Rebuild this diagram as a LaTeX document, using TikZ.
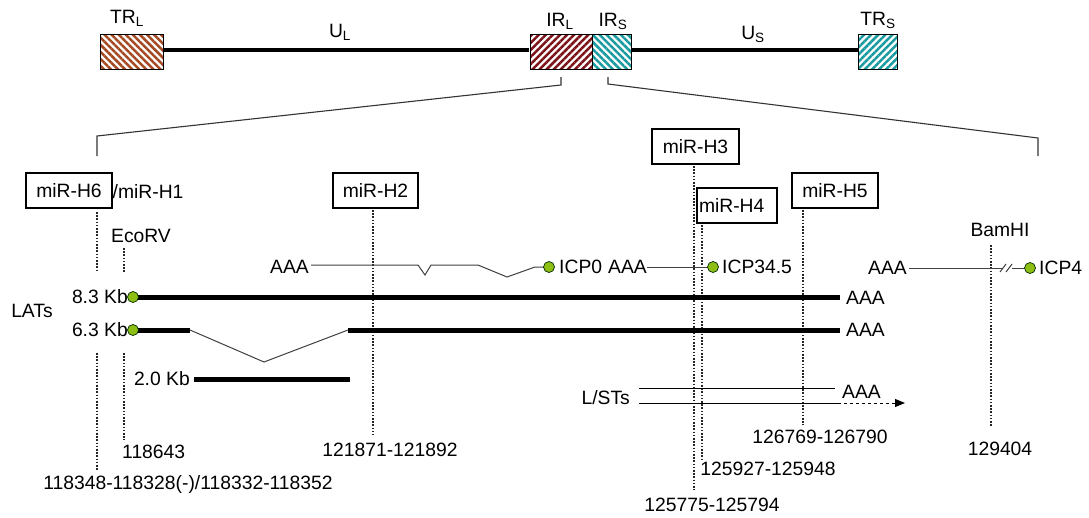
\documentclass[tikz,border=0pt]{standalone}
\usepackage{fontspec}
\setmainfont{Liberation Sans}
\usetikzlibrary{patterns.meta,arrows.meta}
\definecolor{trlcol}{RGB}{165,75,35}
\definecolor{irlcol}{RGB}{125,20,25}
\definecolor{tealcol}{RGB}{25,155,160}
\definecolor{genegreen}{RGB}{140,190,20}
\tikzset{
  lbl/.style={inner sep=0pt, text height=13.8pt, text depth=0pt},
  region/.style={draw=black, line width=0.8pt, inner sep=0pt, minimum height=35pt},
  hatchA/.style={pattern={Lines[angle=-45,distance=5pt,line width=2.5pt]}},
  hatchB/.style={pattern={Lines[angle=45,distance=5pt,line width=2.5pt]}},
  genome/.style={line width=4pt},
  proj/.style={line width=1.1pt, black!80},
  mirbox/.style={draw=black, line width=1.1pt, minimum height=35pt, inner sep=0pt, text height=13.8pt, text depth=0pt},
  dotline/.style={line width=2.2pt, dash pattern=on 1.6pt off 1.6pt, black!85},
  thickline/.style={line width=5pt},
  thinline/.style={line width=1pt, black!75},
  gene/.style={circle, draw=black!60!green!40!black, line width=0.7pt, fill=genegreen, minimum size=11pt, inner sep=0pt}
}
\begin{document}
\begin{tikzpicture}[x=1pt,y=-1pt,font=\fontsize{19.3}{21}\selectfont]
\useasboundingbox[fill=white] (0,0) rectangle (1089,517);

% ---- genome overview ----
\node[region, hatchA, pattern color=trlcol, minimum width=63pt] (trl) at (131.5,51.5) {};
\node[region, hatchB, pattern color=irlcol, minimum width=62pt] (irl) at (561,51.5) {};
\node[region, hatchA, pattern color=tealcol, minimum width=39pt] (irs) at (611.5,51.5) {};
\node[region, hatchB, pattern color=tealcol, minimum width=39pt] (trs) at (877.5,51.5) {};
\draw[genome] ([yshift=2pt]trl.east) -- ([yshift=2pt]irl.west);
\draw[genome] ([yshift=2pt]irs.east) -- ([yshift=2pt]trs.west);

\node[anchor=base, inner sep=0pt] (ltrl) at (127,23) {TR\textsubscript{L}};
\node[anchor=base, inner sep=0pt] (lul) at (340,37) {U\textsubscript{L}};
\node[anchor=base, inner sep=0pt] (lirl) at (560,26) {IR\textsubscript{L}};
\node[anchor=base, inner sep=0pt] (lirs) at (613,26) {IR\textsubscript{S}};
\node[anchor=base, inner sep=0pt] (lus) at (753,39) {U\textsubscript{S}};
\node[anchor=base, inner sep=0pt] (ltrs) at (878,25) {TR\textsubscript{S}};

% ---- projection brackets ----
\coordinate (pl1) at (561,77);
\coordinate (pl2) at (561,85);
\coordinate (pl3) at (97,136);
\coordinate (pl4) at (97,156);
\coordinate (pr1) at (608,77);
\coordinate (pr2) at (608,84);
\coordinate (pr3) at (1038,138);
\coordinate (pr4) at (1038,156);
\draw[proj] (pl1) -- (pl2) -- (pl3) -- (pl4);
\draw[proj] (pr1) -- (pr2) -- (pr3) -- (pr4);

% ---- miRNA boxes ----
\node[mirbox, minimum width=86pt] (h6) at (69,190.5) {miR-H6};
\node[lbl, anchor=west] (h1) at (112.5,192) {/miR-H1};
\node[mirbox, minimum width=85pt] (h2) at (375.5,190.5) {miR-H2};
\node[mirbox, minimum width=87pt] (h3) at (695.5,146.5) {miR-H3};
\node[mirbox, minimum width=80pt, text width=76pt, align=left, inner xsep=2pt] (h4) at (737,205.5) {miR-H4};
\node[mirbox, minimum width=86pt] (h5) at (835,190.5) {miR-H5};

\node[lbl] (ecorv) at (141,236) {EcoRV};
\node[lbl] (bamhi) at (1000,230) {BamHI};

% ---- position labels ----
\node[lbl, anchor=west] (n118643) at (122,452) {118643};
\node[lbl] (nh6) at (188,483) {118348-118328(-)/118332-118352};
\node[lbl] (nh2) at (390,450) {121871-121892};
\node[lbl] (nh3) at (712,505) {125775-125794};
\node[lbl] (nh4) at (768,469) {125927-125948};
\node[lbl] (nh5) at (820,437) {126769-126790};
\node[lbl] (nbam) at (1000,449) {129404};

% ---- dotted marker lines ----
\coordinate (d6a) at (97,272);
\coordinate (d6b) at (97,353);
\coordinate (d6c) at (97,470);
\coordinate (deco) at (124,248);
\coordinate (decoa) at (124,273);
\coordinate (decob) at (124,353);
\coordinate (decoc) at (124,440);
\draw[dotline] (97,212) -- (d6a);
\draw[dotline] (d6b) -- (d6c);
\draw[dotline] (deco) -- (decoa);
\draw[dotline] (decob) -- (decoc);
\draw[dotline] (373,210) -- (373,435);
\draw[dotline] (694,166) -- (694,490);
\draw[dotline] (702,225) -- (702,459);
\draw[dotline] (803,210) -- (803,425);
\draw[dotline] (991,245) -- (991,427);

% ---- lytic transcripts ----
\node[lbl, anchor=east] (aaa0) at (309,267) {AAA};
\coordinate (g0c) at (549,267);
\draw[thinline] (311,265) -- (418,265) -- (425,275) -- (431,265) -- (478,265) -- (507,277) -- (535,267) -- (g0c);
\node[gene] (g0) at (g0c) {};
\node[lbl, anchor=west] (icp0) at (559,267) {ICP0};

\node[lbl, anchor=east] (aaa345) at (647,267) {AAA};
\coordinate (g345c) at (713,267);
\draw[thinline] (aaa345.east) -- (g345c);
\node[gene] (g345) at (g345c) {};
\node[lbl, anchor=west] (icp345) at (722,267) {ICP34.5};

\node[lbl, anchor=east] (aaa4) at (907,268) {AAA};
\coordinate (g4c) at (1030,268);
\draw[thinline] (909,268) -- (1002,268);
\draw[thinline] (1012,268) -- (g4c);
\draw[thinline] (1000,272) -- (1006,264);
\draw[thinline] (1006,272) -- (1012,264);
\node[gene] (g4) at (g4c) {};
\node[lbl, anchor=west] (icp4) at (1039,268) {ICP4};

% ---- LATs ----
\node[lbl] (lats) at (32,311) {LATs};
\coordinate (c83) at (133,297);
\coordinate (c63) at (133,330);
\coordinate (e83) at (840,297);
\coordinate (e63) at (840,330);
\draw[thickline] (c83) -- (e83);
\draw[thickline] (c63) -- (190,330);
\draw[thinline] (190,330) -- (264,362) -- (348,330);
\draw[thickline] (348,330) -- (e63);
\node[gene] (g83) at (c83) {};
\node[gene] (g63) at (c63) {};
\node[lbl, anchor=east] (k83) at (128,297) {8.3 Kb};
\node[lbl, anchor=east] (k63) at (128,330) {6.3 Kb};
\node[lbl, anchor=west] (a83) at (846,298) {AAA};
\node[lbl, anchor=west] (a63) at (846,330) {AAA};
\node[lbl, anchor=east] (k20) at (190,379) {2.0 Kb};
\coordinate (s20) at (194,379);
\coordinate (e20) at (350,379);
\draw[thickline] (s20) -- (e20);

% ---- L/STs ----
\node[lbl, anchor=east] (lsts) at (630,398) {L/STs};
\coordinate (ls1) at (639,388);
\coordinate (ls1e) at (835,388);
\coordinate (ls2) at (639,403);
\coordinate (ls2e) at (838,403);
\coordinate (ls2a) at (905,403);
\draw[thinline, black] (ls1) -- (ls1e);
\draw[thinline, black] (ls2) -- (ls2e);
\draw[thinline, black, dashed, -{Triangle[length=10pt,width=8pt]}] (ls2e) -- (ls2a);
\node[lbl, anchor=west] (alsts) at (842,392) {AAA};
\end{tikzpicture}
\end{document}
